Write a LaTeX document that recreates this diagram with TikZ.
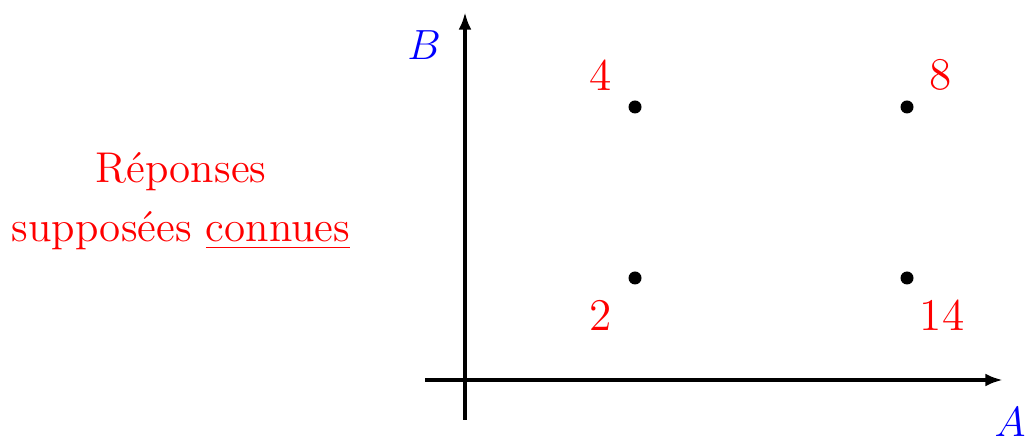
\documentclass[tikz,border=0pt]{standalone}
\usepackage{amsmath}
\usepackage{xcolor}
\usepackage{tikz}
\usetikzlibrary{arrows.meta,positioning}

\begin{document}
\begin{tikzpicture}[
  >={Latex[length=5pt,width=3.6pt]},
  axe/.style={->, line width=1pt},
  pt/.style={circle, fill=black, inner sep=0pt, minimum size=0.13cm},
  num/.style={text=red, font=\fontsize{12.9}{16.8}\selectfont, inner sep=0pt},
  nomaxe/.style={text=blue, font=\fontsize{12.9}{16.8}\selectfont, inner sep=0pt},
]
\useasboundingbox (0,0) rectangle (10.28,4.42);

%% axes
\coordinate (x0) at (4.25,0.62);
\coordinate (x1) at (10.03,0.62);
\coordinate (y0) at (4.65,0.22);
\coordinate (y1) at (4.65,4.30);
\draw[axe] (x0) -- (x1);
\draw[axe] (y0) -- (y1);
\node[nomaxe] (nA) at (10.10,0.20) {$A$};
\node[nomaxe] (nB) at (4.24,3.97) {$B$};

%% points
\node[pt] (p2)  at (6.35,1.64) {};
\node[pt] (p4)  at (6.35,3.35) {};
\node[pt] (p8)  at (9.07,3.35) {};
\node[pt] (p14) at (9.07,1.64) {};

\node[num] (l2)  at (6.01,1.27) {2};
\node[num] (l4)  at (6.01,3.67) {4};
\node[num] (l8)  at (9.41,3.67) {8};
\node[num] (l14) at (9.42,1.27) {14};

%% texte
\node[num, align=center, font=\fontsize{12.25}{16.8}\selectfont] (rep) at (1.81,2.41)
  {R\'eponses\\suppos\'ees \underline{connues}};

\end{tikzpicture}
\end{document}
